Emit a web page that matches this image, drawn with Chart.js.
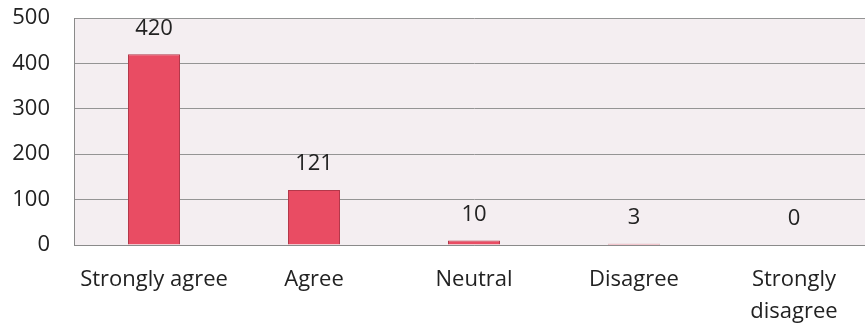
<!DOCTYPE html>
<html>
<head>
<meta charset="utf-8">
<script src="https://cdn.jsdelivr.net/npm/chart.js@4/dist/chart.umd.min.js"></script>
<style>
html,body{margin:0;padding:0;background:#fff;overflow:hidden;}
#wrap{width:875px;height:324px;position:relative;}
</style>
</head>
<body>
<div id="wrap"><canvas id="c"></canvas></div>
<script>
const categories = ["Strongly agree", "Agree", "Neutral", "Disagree", ["Strongly", "disagree"]];
const responses = [420, 121, 10, 3, 0];
const yTicks = [0, 100, 200, 300, 400, 500];

const bgPlugin = {
  id: 'plotBg',
  beforeDraw(chart) {
    const {ctx, chartArea: a} = chart;
    ctx.save();
    ctx.fillStyle = '#f4eef1';
    ctx.fillRect(a.left, a.top, a.right - a.left, a.bottom - a.top);
    ctx.restore();
  }
};

const labelPlugin = {
  id: 'valueLabels',
  afterDatasetsDraw(chart) {
    const {ctx} = chart;
    const meta = chart.getDatasetMeta(0);
    ctx.save();
    ctx.font = '22px "Open Sans"';
    ctx.fillStyle = '#222222';
    ctx.textAlign = 'center';
    ctx.textBaseline = 'middle';
    meta.data.forEach((bar, i) => {
      ctx.fillText(String(chart.data.datasets[0].data[i]), bar.x, bar.y - 26);
    });
    ctx.restore();
  }
};

new Chart(document.getElementById('c'), {
  type: 'bar',
  data: {
    labels: categories,
    datasets: [{
      data: responses,
      backgroundColor: '#e94c63',
      borderColor: '#b3384a',
      borderWidth: 1,
      categoryPercentage: 1,
      barPercentage: 0.325
    }]
  },
  options: {
    responsive: true,
    maintainAspectRatio: false,
    animation: false,
    devicePixelRatio: 1,
    layout: { autoPadding: false, padding: { top: 18, right: 1, left: 0, bottom: 0 } },
    plugins: { legend: { display: false }, tooltip: { enabled: false } },
    scales: {
      x: {
        grid: { display: false, drawTicks: false },
        border: { display: true, color: '#8a8a8a', width: 1 },
        ticks: {
          color: '#222222',
          font: { family: '"Open Sans"', size: 22, lineHeight: 1.45 },
          padding: 19,
          maxRotation: 0,
          autoSkip: false
        },
        afterFit(scale) { scale.height = 79; scale.paddingTop = 0; scale.paddingBottom = 0; }
      },
      y: {
        min: 0, max: 500,
        afterBuildTicks(scale) { scale.ticks = yTicks.map(v => ({ value: v })); },
        grid: { color: '#949494', lineWidth: 1, drawTicks: false },
        border: { display: true, color: '#8a8a8a', width: 1 },
        ticks: {
          color: '#222222',
          font: { family: '"Open Sans"', size: 22 },
          padding: 24
        },
        afterFit(scale) { scale.width = 74; scale.paddingTop = 0; scale.paddingBottom = 0; }
      }
    }
  },
  plugins: [bgPlugin, labelPlugin]
});
</script>
</body>
</html>
